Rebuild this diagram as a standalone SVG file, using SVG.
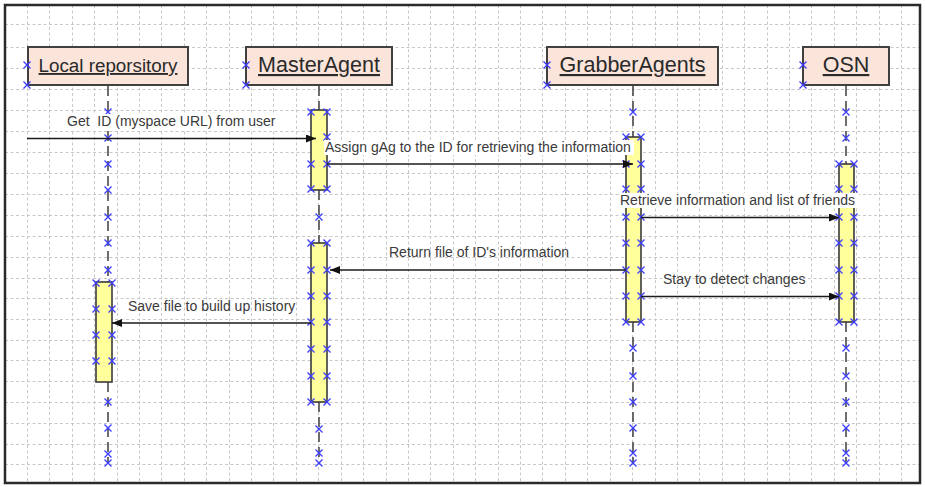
<svg xmlns="http://www.w3.org/2000/svg" xmlns:xlink="http://www.w3.org/1999/xlink" width="925" height="487" viewBox="0 0 925 487">
  <style>
    .grid { fill: none; stroke: #c8c8c8; stroke-width: 1; stroke-dasharray: 3 2.5; }
    .head { fill: #fbe4da; stroke: #404040; stroke-width: 2; }
    .title { font-family: "Liberation Sans", Arial, sans-serif; fill: #2a2a2a; text-decoration: underline; text-anchor: middle; }
    .life { fill: none; stroke: #4a4a4a; stroke-width: 1.6; stroke-dasharray: 10 5; }
    .bar { fill: #ffff9c; stroke: #3a3a3a; stroke-width: 1.6; }
    .msg { fill: none; stroke: #1a1a1a; stroke-width: 1.3; }
    .lbl { font-family: "Liberation Sans", Arial, sans-serif; font-size: 14px; fill: #3a3a3a; white-space: pre; }
    .lblbg { fill: #ffffff; }
  </style>
  <defs>
    <path id="xm" d="M-3.5 -3.5L3.5 3.5M-3.5 3.5L3.5 -3.5" stroke="#3c3cff" stroke-width="1.3" fill="none"/>
    <marker id="ah" viewBox="0 0 10 8" refX="10" refY="4" markerWidth="10" markerHeight="8" markerUnits="userSpaceOnUse" orient="auto">
      <path d="M0 0L10 4L0 8Z" fill="#111"/>
    </marker>
  </defs>

  <!-- page -->
  <rect x="0" y="0" width="925" height="487" fill="#ffffff"/>

  <!-- background grid -->
  <path class="grid" d="M27.5 5V483M49.5 5V483M72.5 5V483M94.5 5V483M117.5 5V483M139.5 5V483M161.5 5V483M184.5 5V483M206.5 5V483M229.5 5V483M251.5 5V483M273.5 5V483M296.5 5V483M318.5 5V483M341.5 5V483M363.5 5V483M386.5 5V483M408.5 5V483M430.5 5V483M453.5 5V483M475.5 5V483M498.5 5V483M520.5 5V483M542.5 5V483M565.5 5V483M587.5 5V483M610.5 5V483M632.5 5V483M655.5 5V483M677.5 5V483M699.5 5V483M722.5 5V483M744.5 5V483M767.5 5V483M789.5 5V483M811.5 5V483M834.5 5V483M856.5 5V483M879.5 5V483M901.5 5V483"/>
  <path class="grid" d="M5 24.5H920M5 47.5H920M5 68.5H920M5 89.5H920M5 110.5H920M5 131.5H920M5 152.5H920M5 173.5H920M5 194.5H920M5 215.5H920M5 236.5H920M5 257.5H920M5 278.5H920M5 298.5H920M5 319.5H920M5 340.5H920M5 360.5H920M5 381.5H920M5 402.5H920M5 423.5H920M5 444.5H920M5 464.5H920"/>

  <!-- frame -->
  <rect x="5" y="5" width="915" height="478" fill="none" stroke="#2a2a2a" stroke-width="2.5"/>

  <!-- Local reporsitory -->
  <g id="local">
    <path class="life" d="M108 86V282M108 382V464"/>
    <rect class="bar" x="96" y="282" width="16" height="100"/>
    <rect class="head" x="28" y="47" width="160" height="38"/>
    <text class="title" x="108" y="72" font-size="18.8">Local reporsitory</text>
    <g>
      <use xlink:href="#xm" x="27" y="65"/><use xlink:href="#xm" x="27" y="85"/>
      <use xlink:href="#xm" x="108" y="112"/><use xlink:href="#xm" x="108" y="138"/>
      <use xlink:href="#xm" x="108" y="164"/><use xlink:href="#xm" x="108" y="190"/>
      <use xlink:href="#xm" x="108" y="217"/><use xlink:href="#xm" x="108" y="243"/>
      <use xlink:href="#xm" x="108" y="270"/>
      <use xlink:href="#xm" x="96" y="283"/><use xlink:href="#xm" x="112" y="283"/>
      <use xlink:href="#xm" x="96" y="309"/><use xlink:href="#xm" x="112" y="309"/>
      <use xlink:href="#xm" x="96" y="335"/><use xlink:href="#xm" x="112" y="335"/>
      <use xlink:href="#xm" x="96" y="361"/><use xlink:href="#xm" x="112" y="361"/>
      <use xlink:href="#xm" x="108" y="402"/><use xlink:href="#xm" x="108" y="428"/>
      <use xlink:href="#xm" x="108" y="454"/><use xlink:href="#xm" x="108" y="463"/>
    </g>
  </g>

  <!-- MasterAgent -->
  <g id="master">
    <path class="life" d="M319 86V110M319 190V243M319 402V464"/>
    <rect class="bar" x="311" y="110" width="16" height="80"/>
    <rect class="bar" x="311" y="243" width="16" height="159"/>
    <rect class="head" x="246" y="47" width="146" height="38"/>
    <text class="title" x="319" y="72" font-size="21.5">MasterAgent</text>
    <g>
      <use xlink:href="#xm" x="246" y="65"/><use xlink:href="#xm" x="246" y="85"/>
      <use xlink:href="#xm" x="311" y="112"/><use xlink:href="#xm" x="327" y="112"/>
      <use xlink:href="#xm" x="327" y="137"/>
      <use xlink:href="#xm" x="311" y="164"/><use xlink:href="#xm" x="327" y="164"/>
      <use xlink:href="#xm" x="311" y="189"/><use xlink:href="#xm" x="327" y="189"/>
      <use xlink:href="#xm" x="319" y="217"/>
      <use xlink:href="#xm" x="311" y="243"/><use xlink:href="#xm" x="327" y="243"/>
      <use xlink:href="#xm" x="311" y="270"/><use xlink:href="#xm" x="327" y="270"/>
      <use xlink:href="#xm" x="311" y="296"/><use xlink:href="#xm" x="327" y="296"/>
      <use xlink:href="#xm" x="311" y="322"/><use xlink:href="#xm" x="327" y="322"/>
      <use xlink:href="#xm" x="311" y="349"/><use xlink:href="#xm" x="327" y="349"/>
      <use xlink:href="#xm" x="311" y="376"/><use xlink:href="#xm" x="327" y="376"/>
      <use xlink:href="#xm" x="311" y="402"/><use xlink:href="#xm" x="327" y="402"/>
      <use xlink:href="#xm" x="319" y="429"/><use xlink:href="#xm" x="319" y="453"/>
      <use xlink:href="#xm" x="319" y="463"/>
    </g>
  </g>

  <!-- GrabberAgents -->
  <g id="grabber">
    <path class="life" d="M633 86V137M633 322V464"/>
    <rect class="bar" x="626" y="137" width="15" height="185"/>
    <rect class="head" x="547" y="47" width="171" height="38"/>
    <text class="title" x="632.5" y="72" font-size="21.5">GrabberAgents</text>
    <g>
      <use xlink:href="#xm" x="547" y="65"/><use xlink:href="#xm" x="547" y="85"/>
      <use xlink:href="#xm" x="633" y="112"/>
      <use xlink:href="#xm" x="626" y="137"/><use xlink:href="#xm" x="641" y="137"/>
      <use xlink:href="#xm" x="626" y="164"/><use xlink:href="#xm" x="641" y="164"/>
      <use xlink:href="#xm" x="626" y="189"/><use xlink:href="#xm" x="641" y="189"/>
      <use xlink:href="#xm" x="626" y="217"/><use xlink:href="#xm" x="641" y="217"/>
      <use xlink:href="#xm" x="626" y="243"/><use xlink:href="#xm" x="641" y="243"/>
      <use xlink:href="#xm" x="626" y="270"/><use xlink:href="#xm" x="641" y="270"/>
      <use xlink:href="#xm" x="626" y="296"/><use xlink:href="#xm" x="641" y="296"/>
      <use xlink:href="#xm" x="626" y="322"/><use xlink:href="#xm" x="641" y="322"/>
      <use xlink:href="#xm" x="633" y="348"/><use xlink:href="#xm" x="633" y="376"/>
      <use xlink:href="#xm" x="633" y="402"/><use xlink:href="#xm" x="633" y="428"/>
      <use xlink:href="#xm" x="633" y="453"/><use xlink:href="#xm" x="633" y="463"/>
    </g>
  </g>

  <!-- OSN -->
  <g id="osn">
    <path class="life" d="M846 86V164M846 322V464"/>
    <rect class="bar" x="839" y="164" width="15" height="158"/>
    <rect class="head" x="803" y="47" width="86" height="38"/>
    <text class="title" x="846" y="72" font-size="21.5">OSN</text>
    <g>
      <use xlink:href="#xm" x="803" y="65"/><use xlink:href="#xm" x="803" y="85"/>
      <use xlink:href="#xm" x="846" y="112"/><use xlink:href="#xm" x="846" y="138"/>
      <use xlink:href="#xm" x="839" y="164"/><use xlink:href="#xm" x="854" y="164"/>
      <use xlink:href="#xm" x="839" y="189"/><use xlink:href="#xm" x="854" y="189"/>
      <use xlink:href="#xm" x="839" y="217"/><use xlink:href="#xm" x="854" y="217"/>
      <use xlink:href="#xm" x="839" y="243"/><use xlink:href="#xm" x="854" y="243"/>
      <use xlink:href="#xm" x="839" y="270"/><use xlink:href="#xm" x="854" y="270"/>
      <use xlink:href="#xm" x="839" y="296"/><use xlink:href="#xm" x="854" y="296"/>
      <use xlink:href="#xm" x="839" y="322"/><use xlink:href="#xm" x="854" y="322"/>
      <use xlink:href="#xm" x="846" y="348"/><use xlink:href="#xm" x="846" y="376"/>
      <use xlink:href="#xm" x="846" y="402"/><use xlink:href="#xm" x="846" y="428"/>
      <use xlink:href="#xm" x="846" y="453"/><use xlink:href="#xm" x="846" y="463"/>
    </g>
  </g>

  <!-- messages -->
  <g id="connectors">
    <path class="msg" d="M27 138.5H316" marker-end="url(#ah)"/>
    <rect class="lblbg" x="66" y="114" width="211" height="15"/>
    <text class="lbl" x="67" y="126">Get  ID (myspace URL) from user</text>

    <path class="msg" d="M327 164H633" marker-end="url(#ah)"/>
    <rect class="lblbg" x="324" y="140" width="310" height="15"/>
    <text class="lbl" x="325" y="152">Assign gAg to the ID for retrieving the information</text>

    <path class="msg" d="M641 217.5H839" marker-end="url(#ah)"/>
    <rect class="lblbg" x="619" y="193" width="240" height="15"/>
    <text class="lbl" x="620" y="205">Retrieve information and list of friends</text>

    <path class="msg" d="M626 270H330" marker-end="url(#ah)"/>
    <text class="lbl" x="389" y="257">Return file of ID's information</text>

    <path class="msg" d="M641 296.5H839" marker-end="url(#ah)"/>
    <text class="lbl" x="663" y="284">Stay to detect changes</text>

    <path class="msg" d="M311 323H112" marker-end="url(#ah)"/>
    <text class="lbl" x="128" y="311">Save file to build up history</text>
  </g>
</svg>
